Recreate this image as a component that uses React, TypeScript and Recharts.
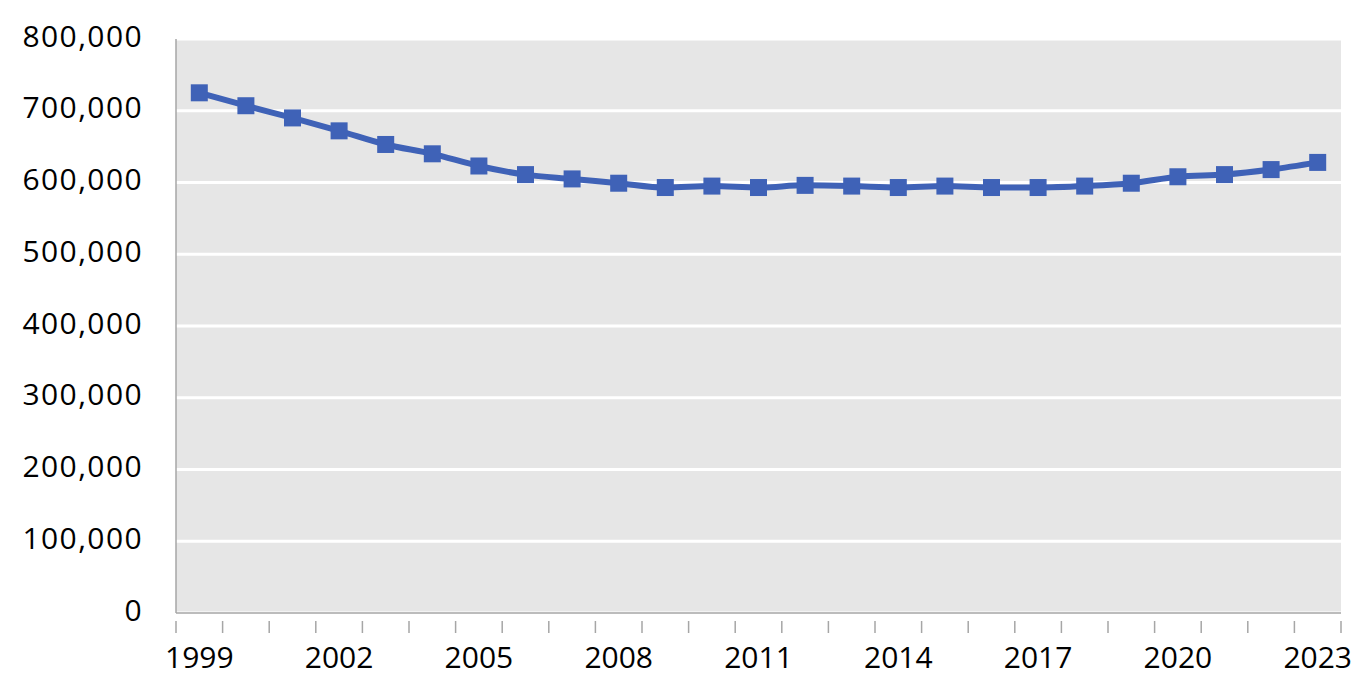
import React from "react";
import { LineChart, Line, XAxis, YAxis, CartesianGrid } from "recharts";

const years = ["1999","2000","2001","2002","2003","2004","2005","2006","2007","2008","2009","2010","2011","2012","2013","2014","2015","2016","2017","2018","2019","2020","2021","2022","2023"];
const values = [725000,707000,690000,672000,653000,640000,623000,611000,605000,599000,593000,595000,593000,596000,595000,593000,595000,593000,593000,595000,599000,608000,611000,618000,628000];
const yTicks = [0,100000,200000,300000,400000,500000,600000,700000,800000];
const labelEvery = 3;

const data = years.map((y, i) => ({ year: y, value: values[i] }));

const FONT = "'Open Sans', Lato, sans-serif";
const FONT_SIZE = 30;
const AXIS_COLOR = "#A6A6A6";
const LINE_COLOR = "#3F62B7";

const XTick = (props: any) => {
  const { x, y, payload, index, visibleTicksCount } = props;
  const half = payload && payload.offset ? payload.offset : 23.3;
  const showLabel = index % labelEvery === 0;
  const isLast = index === (visibleTicksCount ?? years.length) - 1;
  return (
    <g>
      <line x1={x - half} x2={x - half} y1={y} y2={y + 12} stroke={AXIS_COLOR} strokeWidth={1.5} />
      {isLast && (
        <line x1={x + half} x2={x + half} y1={y} y2={y + 12} stroke={AXIS_COLOR} strokeWidth={1.5} />
      )}
      {showLabel && (
        <text x={x} y={y + 47} textAnchor="middle" fill="#000" fontSize={FONT_SIZE} fontFamily={FONT}>
          {payload.value}
        </text>
      )}
    </g>
  );
};

const SquareDot = (props: any) => {
  const { cx, cy } = props;
  if (cx == null || cy == null) return null;
  const s = 17;
  return <rect x={cx - s / 2} y={cy - s / 2} width={s} height={s} fill={LINE_COLOR} />;
};

export default function App() {
  return (
    <div style={{ position: "absolute", left: 0, top: 0, background: "#fff" }}>
      <LineChart
        width={1366}
        height={690}
        data={data}
        margin={{ top: 39, right: 25, bottom: 0, left: 0 }}
      >
        <CartesianGrid vertical={false} stroke="#FFFFFF" strokeWidth={3} fill="#E6E6E6" />
        <XAxis
          dataKey="year"
          scale="band"
          interval={0}
          height={77}
          tickLine={false}
          axisLine={{ stroke: AXIS_COLOR, strokeWidth: 1.5 }}
          tick={<XTick />}
        />
        <YAxis
          width={176}
          domain={[0, 800000]}
          ticks={yTicks}
          interval={0}
          tickLine={false}
          tickSize={0}
          tickMargin={33}
          axisLine={{ stroke: AXIS_COLOR, strokeWidth: 1.5 }}
          tick={{ fill: "#000", fontSize: FONT_SIZE, fontFamily: FONT, letterSpacing: 1.4, dy: -3 }}
          tickFormatter={(v: number) => v.toLocaleString("en-US")}
        />
        <Line
          type="monotone"
          dataKey="value"
          stroke={LINE_COLOR}
          strokeWidth={6}
          dot={<SquareDot />}
          activeDot={false}
          isAnimationActive={false}
        />
      </LineChart>
    </div>
  );
}
